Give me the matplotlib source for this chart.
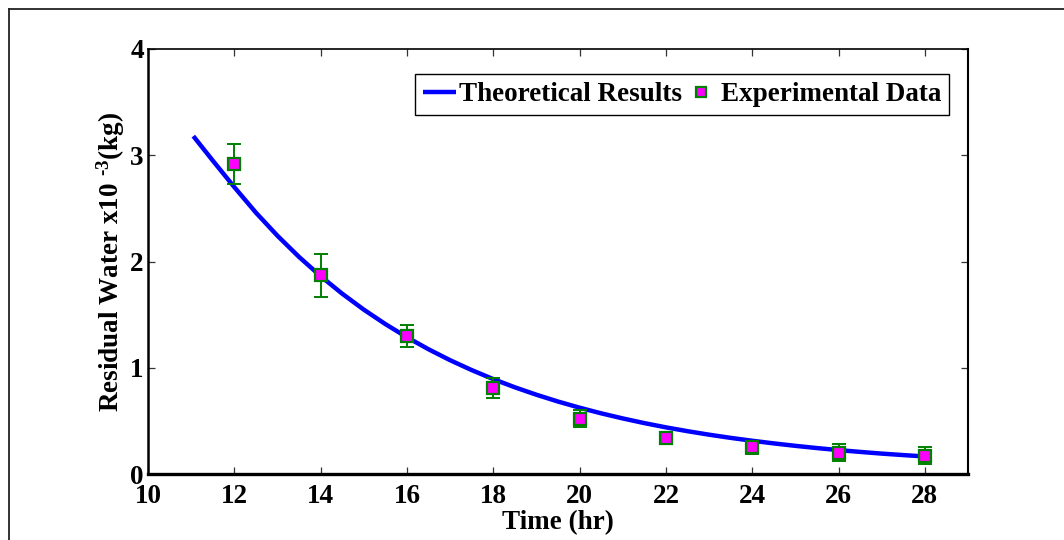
import numpy as np
import matplotlib.pyplot as plt
from matplotlib.lines import Line2D

plt.rcParams['font.family'] = ['Liberation Serif', 'DejaVu Serif']
plt.rcParams['font.weight'] = 'bold'
plt.rcParams['mathtext.fontset'] = 'custom'
plt.rcParams['mathtext.rm'] = 'Liberation Serif:bold'
plt.rcParams['mathtext.bf'] = 'Liberation Serif:bold'
plt.rcParams['mathtext.default'] = 'bf'

# theoretical curve, every half hour
t_theory = [11.05, 11.5, 12, 12.5, 13, 13.5, 14, 14.5, 15, 15.5, 16, 16.5, 17, 17.5,
            18, 18.5, 19, 19.5, 20, 20.5, 21, 21.5, 22, 22.5, 23, 23.5, 24, 24.5,
            25, 25.5, 26, 26.5, 27, 27.5, 28]
w_theory = [3.18, 2.95, 2.70, 2.46, 2.242, 2.043, 1.862, 1.697, 1.547, 1.411, 1.287,
            1.174, 1.071, 0.978, 0.893, 0.816, 0.746, 0.682, 0.624, 0.571, 0.523,
            0.479, 0.439, 0.403, 0.370, 0.340, 0.313, 0.288, 0.265, 0.244, 0.225,
            0.208, 0.192, 0.178, 0.165]

# experimental points with error bars
t_exp = [12, 14, 16, 18, 20, 22, 24, 26, 28]
w_exp = [2.92, 1.87, 1.30, 0.81, 0.52, 0.34, 0.25, 0.20, 0.17]
w_err = [0.19, 0.20, 0.10, 0.09, 0.08, 0.06, 0.06, 0.08, 0.08]

fig = plt.figure(figsize=(10.64, 5.4), dpi=100)
ax = fig.add_axes([148/1064, 1-474/540, 820/1064, 425/540])

ax.plot(t_theory, w_theory, color='#0000ff', lw=3.2, label='Theoretical Results',
        solid_joinstyle='round', solid_capstyle='butt', zorder=2)
ax.errorbar(t_exp, w_exp, yerr=w_err, fmt='none', ecolor='#008000', elinewidth=1.4,
            capsize=5, capthick=1.4, zorder=3)
ax.plot(t_exp, w_exp, 's', ms=8.5, mfc='#ff00ff', mec='#008000', mew=1.6,
        label='Experimental Data', zorder=4)

ax.set_xlim(10, 29)
ax.set_ylim(0, 4)
ax.set_xticks(np.arange(10, 29, 2))
ax.set_yticks([0, 1, 2, 3, 4])
ax.tick_params(direction='in', length=5, width=0.9, color='#333333',
               top=True, right=True, labelsize=19.5)
ax.tick_params(axis='x', pad=7)
ax.tick_params(axis='y', pad=3)
for lab in ax.get_xticklabels() + ax.get_yticklabels():
    lab.set_fontweight('bold')

ax.spines['bottom'].set_linewidth(2.4)
ax.spines['left'].set_linewidth(1.8)
ax.spines['top'].set_linewidth(1.2)
ax.spines['right'].set_linewidth(1.5)

ax.set_xlabel('Time (hr)', fontsize=19.5, fontweight='bold', labelpad=1)
ax.set_ylabel(r'Residual Water x10 $^{\text{-3}}$(kg)', fontsize=19.5,
              fontweight='bold', labelpad=2)

leg = ax.legend(loc='upper right', bbox_to_anchor=(0.977, 0.941), ncol=2,
                frameon=True, fancybox=False, framealpha=1,
                edgecolor='black', handlelength=1.2, handletextpad=0.12,
                columnspacing=0.1, borderpad=0.3, borderaxespad=0,
                markerscale=0.8, prop={'weight': 'bold', 'size': 19.5})
leg.get_frame().set_linewidth(1.0)

# outer frame of the exported figure
fig.add_artist(Line2D([9/1064, 9/1064], [1-9/540, 0], color='#222222', lw=1.3,
                      transform=fig.transFigure))
fig.add_artist(Line2D([9/1064, 1], [1-9/540, 1-9/540], color='#222222', lw=1.3,
                      transform=fig.transFigure))

fig.savefig('out.png', dpi=100)
